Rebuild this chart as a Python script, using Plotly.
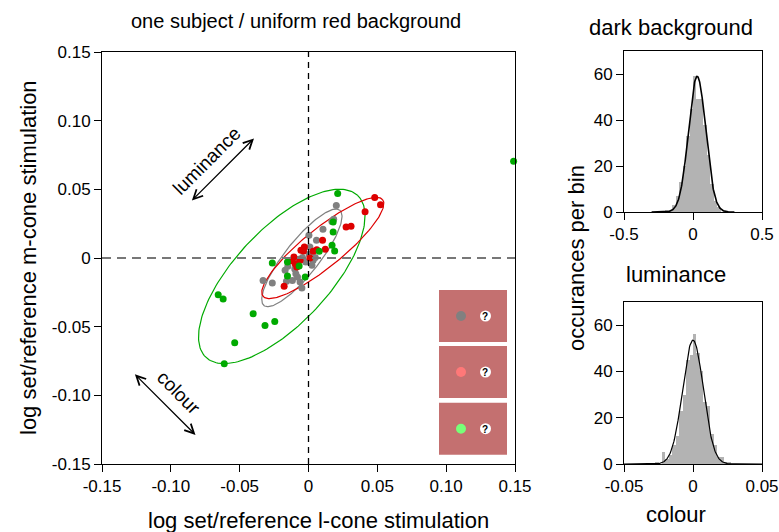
import numpy as np
import plotly.graph_objects as go

# ---------------- data ----------------
green_x = [0.0212, 0.0179, 0.0179, 0.0171, 0.0190, 0.0078, -0.0068, -0.0153, -0.0263, -0.0153,
           -0.0024, -0.0656, -0.0620, -0.0402, -0.0316, -0.0245, -0.0536, -0.0612, 0.1490]
green_y = [0.0470, 0.0263, 0.0190, 0.0093, 0.0051, 0.0049, -0.0058, -0.0029, -0.0036, -0.0131,
           -0.0139, -0.0267, -0.0299, -0.0406, -0.0491, -0.0462, -0.0617, -0.0770, 0.0705]

gray_x = [0.0202, 0.0183, 0.0170, 0.0105, 0.0058, 0.0003, -0.0044, 0.0005, 0.0034, 0.0049,
          0.0025, -0.0020, -0.0170, -0.0092, -0.0080, -0.0117, -0.0160, -0.0330, -0.0263, -0.0048,
          -0.0061, -0.0100, -0.0150, 0.0010, -0.0070]
gray_y = [0.0382, 0.0282, 0.0265, 0.0209, 0.0129, 0.0166, 0.0003, 0.0027, -0.0017, 0.0003,
          -0.0053, -0.0030, -0.0090, -0.0114, -0.0139, -0.0163, -0.0170, -0.0163, -0.0182, -0.0219,
          -0.0175, -0.0080, -0.0060, 0.0080, -0.0010]

red_x = [0.0481, 0.0523, 0.0411, 0.0273, 0.0309, 0.0102, 0.0122, 0.0034, -0.0055, -0.0036,
         -0.0106, -0.0097, -0.0061, -0.0085, -0.0177, -0.0030, 0.0010, -0.0120, 0.0060]
red_y = [0.0441, 0.0387, 0.0336, 0.0226, 0.0231, 0.0129, 0.0064, 0.0049, 0.0056, 0.0051,
         0.0007, -0.0041, -0.0017, -0.0066, -0.0206, 0.0080, 0.0000, -0.0020, 0.0060]

# ellipses: centre x, centre y, semi-major, semi-minor, angle (deg)
ell_green = [-0.0194, -0.0134, 0.0807, 0.0343, 47.0]
ell_gray = [-0.0048, 0.0001, 0.0443, 0.0123, 51.6]
ell_red = [0.0104, 0.0073, 0.0559, 0.0141, 39.0]

main_ticks = [-0.15, -0.10, -0.05, 0, 0.05, 0.10, 0.15]
main_ticktext = ["-0.15", "-0.10", "-0.05", "0", "0.05", "0.10", "0.15"]

# luminance histogram
lum_centers = [-0.1875, -0.1625, -0.1375, -0.1125, -0.0875, -0.0625, -0.0375, -0.0125,
               0.0125, 0.0375, 0.0625, 0.0875, 0.1125, 0.1375, 0.1625, 0.1875]
lum_counts = [1, 1, 3, 7, 13, 20, 33, 45, 59, 49, 49, 38, 25, 12, 5, 2]
lum_binw = 0.025
lum_fit = [0.03, 0.062, 59.0]  # mean, sd, peak

# colour histogram
col_centers = [-0.02625, -0.02375, -0.02125, -0.01875, -0.01625, -0.01375, -0.01125, -0.00875,
               -0.00625, -0.00375, -0.00125, 0.00125, 0.00375, 0.00625, 0.00875, 0.01125,
               0.01375, 0.01625, 0.01875, 0.02125, 0.02375, 0.02625]
col_counts = [1, 0, 5, 2, 4, 8, 12, 23, 30, 45, 47, 56, 48, 40, 27, 25, 13, 8, 3, 3, 1, 1]
col_binw = 0.0025
col_fit = [0.0, 0.0075, 53.5]

FONT = "Liberation Sans, Arial, Helvetica, sans-serif"


def ellipse(p, n=200):
    cx, cy, a, b, ang = p
    t = np.linspace(0, 2 * np.pi, n)
    th = np.deg2rad(ang)
    x = cx + a * np.cos(t) * np.cos(th) - b * np.sin(t) * np.sin(th)
    y = cy + a * np.cos(t) * np.sin(th) + b * np.sin(t) * np.cos(th)
    return x, y


def gauss(p, lo, hi, n=300):
    m, s, pk = p
    x = np.linspace(lo, hi, n)
    return x, pk * np.exp(-(x - m) ** 2 / (2 * s ** 2))


fig = go.Figure()

GREEN = "#00AA00"
RED = "#DD0000"
GRAY = "#808080"

for p, c in [(ell_green, GREEN), (ell_gray, GRAY), (ell_red, RED)]:
    ex, ey = ellipse(p)
    fig.add_trace(go.Scatter(x=ex, y=ey, mode="lines", line=dict(color=c, width=1.2),
                             xaxis="x", yaxis="y", hoverinfo="skip"))

for xs, ys, c in [(gray_x, gray_y, GRAY), (red_x, red_y, RED), (green_x, green_y, GREEN)]:
    fig.add_trace(go.Scatter(x=xs, y=ys, mode="markers", marker=dict(color=c, size=7),
                             xaxis="x", yaxis="y", cliponaxis=False))

# histograms
fig.add_trace(go.Bar(x=lum_centers, y=lum_counts, width=lum_binw, marker=dict(color="#B3B3B3", line=dict(width=0)),
                     xaxis="x2", yaxis="y2"))
gx, gy = gauss(lum_fit, -0.3, 0.3)
fig.add_trace(go.Scatter(x=gx, y=gy, mode="lines", line=dict(color="black", width=1.6), xaxis="x2", yaxis="y2"))

fig.add_trace(go.Bar(x=col_centers, y=col_counts, width=col_binw, marker=dict(color="#B3B3B3", line=dict(width=0)),
                     xaxis="x3", yaxis="y3"))
gx, gy = gauss(col_fit, -0.05, 0.05)
fig.add_trace(go.Scatter(x=gx, y=gy, mode="lines", line=dict(color="black", width=1.2), xaxis="x3", yaxis="y3"))

W, H = 779, 532


def dx(a, b):
    return [a / W, b / W]


def dy(top, bottom):
    return [1 - bottom / H, 1 - top / H]


axcommon = dict(showline=True, linecolor="black", linewidth=1, mirror=True, ticks="outside",
                ticklen=7, tickcolor="black", tickwidth=1, showgrid=False, zeroline=False,
                automargin=False, tickfont=dict(family=FONT, size=17, color="black"))

fig.update_layout(
    width=W, height=H, margin=dict(l=0, r=0, t=0, b=0, pad=0, autoexpand=False),
    paper_bgcolor="white", plot_bgcolor="white", showlegend=False, bargap=0,
    xaxis=dict(domain=dx(102, 515), range=[-0.15, 0.15], tickvals=main_ticks, ticktext=main_ticktext,
               anchor="y", **axcommon),
    yaxis=dict(domain=dy(52, 464), range=[-0.15, 0.15], tickvals=main_ticks, ticktext=main_ticktext,
               anchor="x", **axcommon),
    xaxis2=dict(domain=dx(624, 762), range=[-0.5, 0.5], tickvals=[-0.5, 0, 0.5], ticktext=["-0.5", "0", "0.5"],
                anchor="y2", **axcommon),
    yaxis2=dict(domain=dy(51, 212), range=[0, 70], tickvals=[0, 20, 40, 60], anchor="x2", **axcommon),
    xaxis3=dict(domain=dx(624, 762), range=[-0.05, 0.05], tickvals=[-0.05, 0, 0.05], ticktext=["-0.05", "0", "0.05"],
                anchor="y3", **axcommon),
    yaxis3=dict(domain=dy(302, 464), range=[0, 70], tickvals=[0, 20, 40, 60], anchor="x3", **axcommon),
)

# dashed reference lines
fig.add_shape(type="line", xref="x", yref="y", x0=0, x1=0, y0=-0.15, y1=0.15,
              line=dict(color="black", width=1.3, dash="6px,5px"))
fig.add_shape(type="line", xref="x", yref="y", x0=-0.15, x1=0.15, y0=0, y1=0,
              line=dict(color="#777777", width=2, dash="9px,6px"))

# stimulus icons
box_tops = [290, 346, 402.7]
dot_cols = ["#808080", "#FF7878", "#78FF78"]
for top, dc in zip(box_tops, dot_cols):
    fig.add_shape(type="rect", xref="paper", yref="paper", x0=439 / W, x1=507 / W,
                  y0=1 - (top + 52) / H, y1=1 - top / H, fillcolor="#C47070", line=dict(width=0), layer="above")
    cy = top + 26
    fig.add_shape(type="circle", xref="paper", yref="paper", x0=456 / W, x1=466 / W,
                  y0=1 - (cy + 5) / H, y1=1 - (cy - 5) / H, fillcolor=dc, line=dict(width=0), layer="above")
    fig.add_shape(type="circle", xref="paper", yref="paper", x0=480 / W, x1=491 / W,
                  y0=1 - (cy + 5.5) / H, y1=1 - (cy - 5.5) / H, fillcolor="white", line=dict(width=0), layer="above")
    fig.add_annotation(x=485.5 / W, y=1 - cy / H, xref="paper", yref="paper", text="<b>?</b>", showarrow=False,
                       xanchor="center", yanchor="middle", yshift=-0.5,
                       font=dict(family=FONT, size=10, color="black"))

# arrows
for (x0, y0, x1, y1) in [(-0.0858, 0.0408, -0.0396, 0.0871), (-0.1272, -0.0836, -0.0821, -0.1288)]:
    fig.add_annotation(x=x1, y=y1, ax=x0, ay=y0, xref="x", yref="y", axref="x", ayref="y", text="",
                       showarrow=True, arrowhead=5, startarrowhead=5, arrowside="end+start",
                       arrowwidth=1.3, arrowsize=1.4, startarrowsize=1.4, arrowcolor="black")

fig.add_annotation(x=-0.0738, y=0.0713, xref="x", yref="y", text="luminance", textangle=-45, showarrow=False,
                   font=dict(family=FONT, size=19, color="black"))
fig.add_annotation(x=-0.0943, y=-0.0977, xref="x", yref="y", text="colour", textangle=45, showarrow=False,
                   font=dict(family=FONT, size=19, color="black"))

# titles / labels
txt = [
    ("one subject / uniform red background", 296, 21, 0, 20),
    ("dark background", 671, 28, 0, 22),
    ("log set/reference l-cone stimulation", 318, 520, 0, 22),
    ("log set/reference m-cone stimulation", 28, 258, -90, 22),
    ("occurances per bin", 576, 258, -90, 22),
    ("luminance", 676, 274, 0, 22),
    ("colour", 676, 514, 0, 22),
]
for t, px, py, ang, fs in txt:
    fig.add_annotation(x=px / W, y=1 - py / H, xref="paper", yref="paper", text=t, textangle=ang,
                       showarrow=False, xanchor="center", yanchor="middle",
                       font=dict(family=FONT, size=fs, color="black"))

fig.write_html("out.html", config={"displayModeBar": False},
               post_script="document.body.style.margin='0px';document.body.style.overflow='hidden';")
